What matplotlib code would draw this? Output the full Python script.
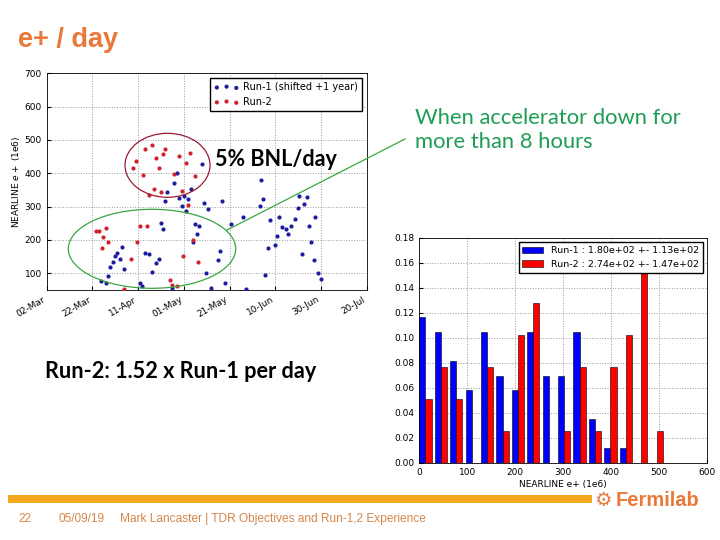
import datetime

import matplotlib.dates as mdates
import matplotlib.pyplot as plt
import numpy as np
from matplotlib.patches import Ellipse, Rectangle
from matplotlib.lines import Line2D

# scatter: days after 02-Mar, NEARLINE e+ (1e6) per day
run2_days = [21.5, 22.9, 24.7, 25.9, 26.8, 24.0, 33.8, 37.1, 37.8, 39.0, 39.7, 40.8,
             42.2, 42.9, 44.0, 44.8, 46.0, 46.9, 47.7, 49.1, 49.8, 50.9, 51.8, 54.0,
             54.9, 55.9, 56.8, 57.9, 59.0, 59.7, 60.8, 61.9, 62.9, 63.8, 64.9, 66.1]
run2_vals = [227, 228, 208, 236, 193, 177, 52, 143, 417, 438, 195, 243,
             395, 472, 243, 335, 484, 353, 446, 416, 343, 457, 472, 79,
             65, 398, 63, 451, 347, 152, 430, 304, 462, 200, 393, 134]

run1_days = [23.9, 25.9, 26.9, 27.9, 29.0, 30.0, 30.7, 31.9, 32.9, 33.9, 40.8, 41.9,
             42.8, 44.7, 45.9, 47.9, 49.1, 49.8, 50.9, 51.8, 52.8, 54.9, 55.9, 56.9,
             57.9, 59.0, 60.0, 61.0, 61.9, 63.0, 63.8, 64.9, 65.9, 66.8, 67.8, 68.7,
             69.9, 70.7, 71.9, 75.0, 75.7, 76.9, 77.9, 80.5, 85.9, 87.0, 93.2, 93.9,
             94.6, 95.6, 96.8, 97.8, 99.9, 100.9, 101.6, 102.8, 104.8, 105.7, 107.1, 108.6,
             110.0, 110.6, 111.9, 112.7, 113.8, 114.7, 115.6, 116.9, 117.6, 118.9, 119.8]
run1_vals = [78, 70, 93, 118, 135, 151, 161, 142, 178, 112, 70, 62,
             161, 157, 103, 131, 142, 252, 234, 317, 345, 56, 370, 402,
             326, 302, 332, 286, 322, 353, 194, 247, 219, 242, 428, 310,
             102, 292, 55, 140, 167, 318, 72, 249, 269, 53, 302, 379,
             322, 95, 177, 261, 184, 211, 269, 238, 234, 217, 242, 264,
             297, 333, 158, 307, 329, 241, 194, 140, 269, 100, 84]

# histogram: counts per bin (16 bins)
hist_lo, hist_hi, n_bins = -3.2, 510.4, 16
run1_counts = [10, 9, 7, 5, 9, 6, 5, 9, 6, 6, 9, 3, 1, 1, 0, 0]
run2_counts = [2, 3, 2, 0, 3, 1, 4, 5, 0, 1, 3, 1, 3, 4, 6, 1]
run1_label = "Run-1 : 1.80e+02 +- 1.13e+02"
run2_label = "Run-2 : 2.74e+02 +- 1.47e+02"

base = datetime.datetime(2019, 3, 2)
orange = "#e8793a"
green = "#1f9d55"

fig = plt.figure(figsize=(7.2, 5.4), dpi=100)
W, H = 720.0, 540.0


def fx(px):
    return px / W


def fy(py):
    return 1 - py / H


# ---- scatter panel ----
ax1 = fig.add_axes([fx(46.7), fy(290), fx(320), (290 - 73.3) / H])
b0 = mdates.date2num(base)
ax1.scatter(b0 + np.array(run1_days), run1_vals, s=9, color="#1c1ca0", lw=0,
            label="Run-1 (shifted +1 year)", zorder=3)
ax1.scatter(b0 + np.array(run2_days), run2_vals, s=9, color="#d0222a", lw=0,
            label="Run-2", zorder=3)
ax1.set_xlim(b0, b0 + 140)
ax1.set_ylim(50, 700)
ax1.set_yticks(range(100, 701, 100))
ax1.set_xticks([b0 + 20 * k for k in range(8)])
ax1.xaxis.set_major_formatter(mdates.DateFormatter("%d-%b"))
ax1.tick_params(labelsize=6.5, direction="in", length=3)
plt.setp(ax1.get_xticklabels(), rotation=30, ha="right")
ax1.set_ylabel("NEARLINE $e+$ (1e6)", fontsize=6.5, labelpad=2)
ax1.grid(True, ls=":", color="#999999", lw=0.7)
ax1.legend(loc="upper right", fontsize=7, scatterpoints=3, fancybox=False,
           edgecolor="black", framealpha=1, borderpad=0.4, handletextpad=0.4,
           handlelength=2.6)
for s in ax1.spines.values():
    s.set_linewidth(0.6)

# ---- histogram panel ----
ax2 = fig.add_axes([fx(419.3), fy(463), fx(288), (463 - 237.7) / H])
edges = np.linspace(hist_lo, hist_hi, n_bins + 1)
centers = 0.5 * (edges[:-1] + edges[1:])
w1 = np.array(run1_counts) / sum(run1_counts)
w2 = np.array(run2_counts) / sum(run2_counts)
ax2.hist([centers, centers], bins=edges, weights=[w1, w2], color=["#0000ff", "#ff0000"],
         edgecolor="black", linewidth=0.4, label=[run1_label, run2_label], zorder=2)
ax2.set_xlim(0, 600)
ax2.set_ylim(0, 0.18)
ax2.set_yticks(np.arange(0, 0.181, 0.02))
ax2.yaxis.set_major_formatter(plt.FormatStrFormatter("%.2f"))
ax2.tick_params(labelsize=6.5, direction="in", length=3)
ax2.set_xlabel("NEARLINE e+ (1e6)", fontsize=6.5, labelpad=2)
ax2.grid(True, ls=":", color="#999999", lw=0.7)
ax2.legend(loc="upper right", fontsize=6.8, fancybox=False, edgecolor="black",
           framealpha=1, borderpad=0.4, handlelength=2.2)
for s in ax2.spines.values():
    s.set_linewidth(0.6)

# ---- slide annotations ----
fig.add_artist(Ellipse((fx(167.5), fy(165.3)), fx(85), 64 / H, fill=False,
                       edgecolor="#9b1b30", lw=0.9, transform=fig.transFigure))
fig.add_artist(Ellipse((fx(152), fy(248.8)), fx(167.4), 79 / H, fill=False,
                       edgecolor="#3aa640", lw=0.9, transform=fig.transFigure))
fig.add_artist(Line2D([fx(227), fx(405)], [fy(230), fy(139)], color="#3aa640", lw=0.9,
                      transform=fig.transFigure))

fig.text(fx(18), fy(40), "e+ / day", color=orange, fontsize=19.5, fontweight="bold",
         family="Liberation Sans", va="center", ha="left")
fig.text(fx(215), fy(160), "5% BNL/day", color="black", fontsize=15.5, fontweight="bold",
         family="Lato", va="center", ha="left")
fig.text(fx(415), fy(130), "When accelerator down for\nmore than 8 hours", color=green,
         fontsize=15.8, family="Lato", va="center", ha="left", linespacing=1.3)
fig.text(fx(45), fy(372), "Run-2: 1.52 x Run-1 per day", color="black", fontsize=15.6,
         fontweight="bold", family="Lato", va="center", ha="left")

# footer
fig.add_artist(Rectangle((fx(8), fy(503)), fx(584), 8 / H, color="#f5a81c",
                         transform=fig.transFigure, lw=0))
fig.text(fx(594), fy(500), "\u2699", color=orange, fontsize=14, family="DejaVu Sans",
         va="center", ha="left", fontweight="bold")
fig.text(fx(616), fy(500), "Fermilab", color=orange, fontsize=14.5, fontweight="bold",
         family="Liberation Sans", va="center", ha="left")
foot_col = "#d4864a"
fig.text(fx(18), fy(519), "22", color=foot_col, fontsize=8.5, family="Liberation Sans", va="center")
fig.text(fx(58), fy(519), "05/09/19", color=foot_col, fontsize=8.5, family="Liberation Sans",
         va="center")
fig.text(fx(120), fy(519), "Mark Lancaster | TDR Objectives and Run-1,2 Experience",
         color=foot_col, fontsize=8.6, family="Liberation Sans", va="center")

fig.savefig("out.png", dpi=100, facecolor="white")
